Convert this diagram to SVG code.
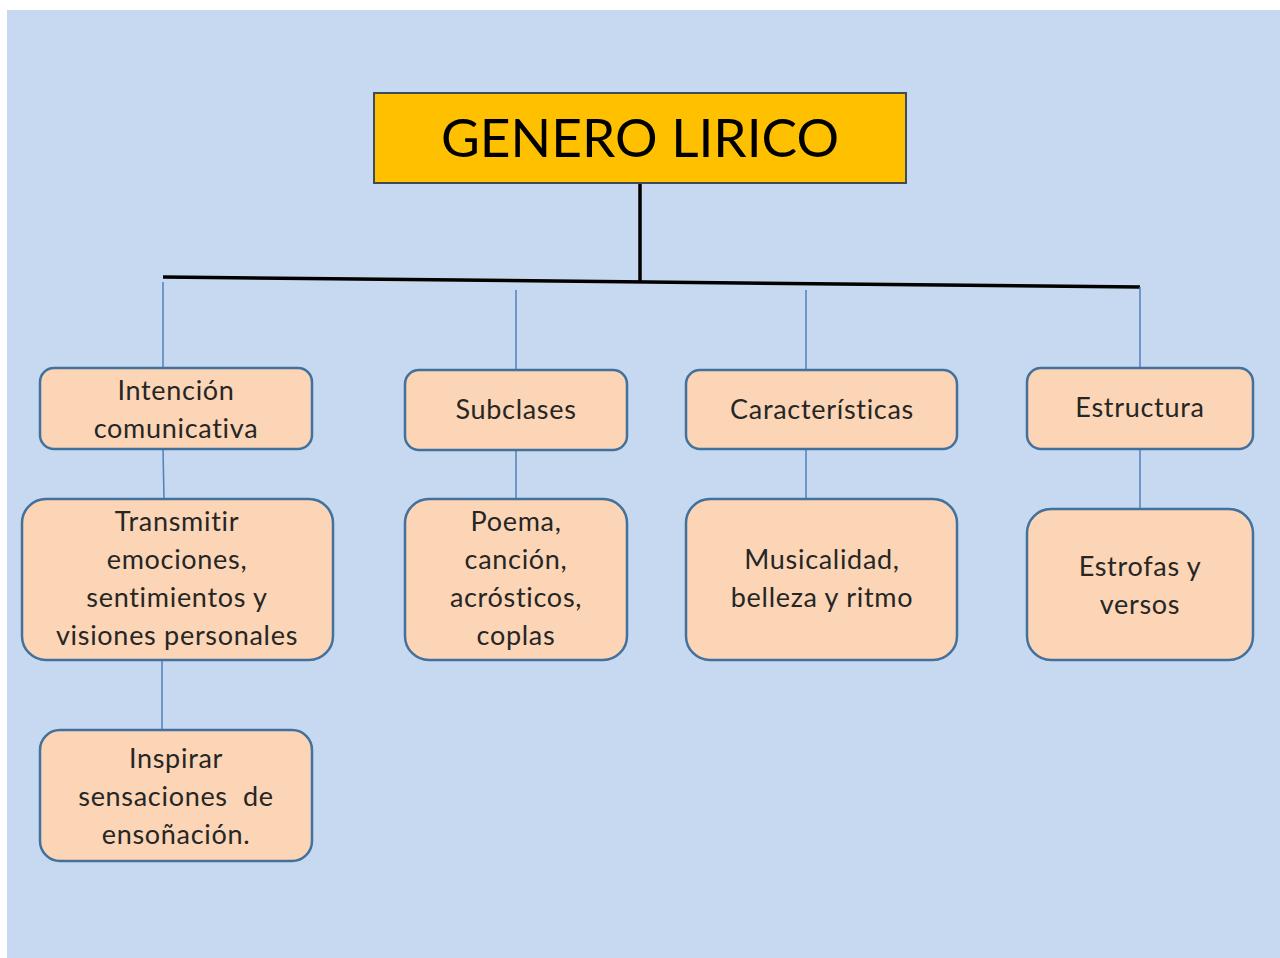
<svg xmlns="http://www.w3.org/2000/svg" width="1280" height="958" viewBox="0 0 1280 958">
<style>
.box{fill:#fbd5b5;stroke:#41719c;stroke-width:2.5}
.t{font-family:Lato,"Open Sans","Liberation Sans",sans-serif;font-size:27px;letter-spacing:0.7px;fill:#262626;text-anchor:middle}
.c{stroke:#4f81bd;stroke-width:1.5;fill:none}
.k{stroke:#000;stroke-width:3.5;fill:none}
</style>
<rect x="0" y="0" width="1280" height="958" fill="#ffffff"/>
<rect x="7" y="10" width="1273" height="948" fill="#c6d9f0"/>
<g id="connectors">
<line class="k" x1="640" y1="183" x2="640" y2="282"/>
<line class="k" x1="163" y1="277" x2="1140" y2="287"/>
<line class="c" x1="163" y1="282" x2="163" y2="368"/>
<line class="c" x1="516" y1="290" x2="516" y2="370"/>
<line class="c" x1="806" y1="290" x2="806" y2="370"/>
<line class="c" x1="1140" y1="287" x2="1140" y2="368"/>
<line class="c" x1="163" y1="449" x2="164" y2="499"/>
<line class="c" x1="516" y1="450" x2="516" y2="499"/>
<line class="c" x1="806" y1="449" x2="806" y2="499"/>
<line class="c" x1="1140" y1="449" x2="1140" y2="509"/>
<line class="c" x1="162" y1="660" x2="162" y2="730"/>
</g>
<g id="title">
<rect x="374" y="93" width="532" height="90" fill="#ffc000" stroke="#3f4a5a" stroke-width="2"/>
<text x="640" y="157" font-family="Lato,'Open Sans','Liberation Sans',sans-serif" font-size="52" fill="#000" text-anchor="middle" textLength="398" lengthAdjust="spacingAndGlyphs">GENERO LIRICO</text>
</g>
<g id="n-intencion">
<rect class="box" x="40" y="368" width="272" height="81" rx="14"/>
<text class="t" x="176" y="400">Intención</text>
<text class="t" x="176" y="438">comunicativa</text>
</g>
<g id="n-subclases">
<rect class="box" x="405" y="370" width="222" height="80" rx="14"/>
<text class="t" x="516" y="419">Subclases</text>
</g>
<g id="n-caracteristicas">
<rect class="box" x="686" y="370" width="271" height="79" rx="14"/>
<text class="t" x="822" y="419">Características</text>
</g>
<g id="n-estructura">
<rect class="box" x="1027" y="368" width="226" height="81" rx="14"/>
<text class="t" x="1140" y="417">Estructura</text>
</g>
<g id="n-transmitir">
<rect class="box" x="22" y="499" width="311" height="161" rx="24"/>
<text class="t" x="177" y="531">Transmitir</text>
<text class="t" x="177" y="569">emociones,</text>
<text class="t" x="177" y="607">sentimientos y</text>
<text class="t" x="177" y="645">visiones personales</text>
</g>
<g id="n-poema">
<rect class="box" x="405" y="499" width="222" height="161" rx="24"/>
<text class="t" x="516" y="531">Poema,</text>
<text class="t" x="516" y="569">canción,</text>
<text class="t" x="516" y="607">acrósticos,</text>
<text class="t" x="516" y="645">coplas</text>
</g>
<g id="n-musicalidad">
<rect class="box" x="686" y="499" width="271" height="161" rx="24"/>
<text class="t" x="822" y="569">Musicalidad,</text>
<text class="t" x="822" y="607">belleza y ritmo</text>
</g>
<g id="n-estrofas">
<rect class="box" x="1027" y="509" width="226" height="151" rx="24"/>
<text class="t" x="1140" y="576">Estrofas y</text>
<text class="t" x="1140" y="614">versos</text>
</g>
<g id="n-inspirar">
<rect class="box" x="40" y="730" width="272" height="131" rx="20"/>
<text class="t" x="176" y="768">Inspirar</text>
<text class="t" x="176" y="806" style="white-space:pre">sensaciones  de</text>
<text class="t" x="176" y="844">ensoñación.</text>
</g>
</svg>
